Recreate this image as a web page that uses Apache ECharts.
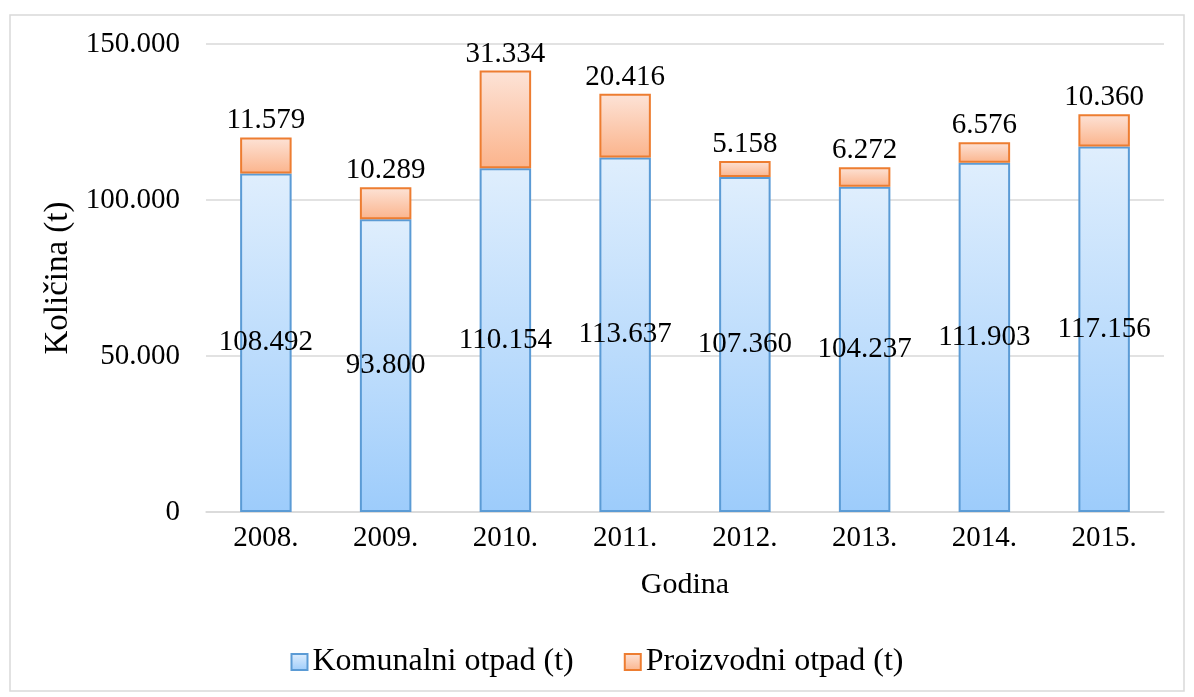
<!DOCTYPE html>
<html>
<head>
<meta charset="utf-8">
<script src="https://cdn.jsdelivr.net/npm/echarts@6/dist/echarts.min.js"></script>
<style>
  html, body { margin: 0; padding: 0; background: #fff; }
  #chart { width: 1194px; height: 697px; }
</style>
</head>
<body>
<div id="chart"></div>
<script>
// data
const years = ['2008.', '2009.', '2010.', '2011.', '2012.', '2013.', '2014.', '2015.'];
const komunalni = [108492, 93800, 110154, 113637, 107360, 104237, 111903, 117156];
const proizvodni = [11579, 10289, 31334, 20416, 5158, 6272, 6576, 10360];
const yTicks = [0, 50000, 100000, 150000];

const fontFamily = '"Liberation Serif", "DejaVu Serif", serif';

// 108492 -> "108.492"
function fmt(v) {
  return String(v).replace(/\B(?=(\d{3})+(?!\d))/g, '.');
}

const chart = echarts.init(document.getElementById('chart'));

const option = {
  backgroundColor: '#fff',
  textStyle: { fontFamily: fontFamily, color: '#000' },
  graphic: [{
    type: 'rect',
    shape: { x: 10, y: 15, width: 1174, height: 676 },
    style: { fill: 'none', stroke: '#d9d9d9', lineWidth: 1.5 },
    silent: true
  }],
  grid: { left: 206, right: 30, top: 44, bottom: 185 },
  legend: {
    bottom: 14,
    left: 'center',
    icon: 'rect',
    itemWidth: 16,
    itemHeight: 16,
    itemGap: 50,
    textStyle: { fontFamily: fontFamily, fontSize: 32, color: '#000' },
    data: ['Komunalni otpad (t)', 'Proizvodni otpad (t)']
  },
  xAxis: {
    type: 'category',
    data: years,
    name: 'Godina',
    nameLocation: 'middle',
    nameGap: 58,
    nameTextStyle: { fontFamily: fontFamily, fontSize: 30, color: '#000' },
    axisLine: { show: true, lineStyle: { color: '#d9d9d9', width: 1.5 } },
    axisTick: { show: false },
    axisLabel: { fontFamily: fontFamily, fontSize: 29, color: '#000', margin: 12 }
  },
  yAxis: {
    type: 'value',
    min: yTicks[0],
    max: yTicks[yTicks.length - 1],
    interval: yTicks[1] - yTicks[0],
    name: 'Količina (t)',
    nameLocation: 'middle',
    nameGap: 129,
    nameTextStyle: { fontFamily: fontFamily, fontSize: 33, color: '#000' },
    axisLine: { show: false },
    axisTick: { show: false },
    axisLabel: {
      fontFamily: fontFamily, fontSize: 29, color: '#000', margin: 26,
      formatter: function (v) { return fmt(v); }
    },
    splitLine: { lineStyle: { color: '#d9d9d9', width: 1.5 } }
  },
  series: [
    {
      name: 'Komunalni otpad (t)',
      type: 'bar',
      stack: 'otpad',
      barWidth: '43%',
      data: komunalni,
      itemStyle: {
        color: new echarts.graphic.LinearGradient(0, 0, 0, 1, [
          { offset: 0, color: '#dfeefd' },
          { offset: 1, color: '#9dccfb' }
        ]),
        borderColor: '#5b9bd5',
        borderWidth: 2
      },
      label: {
        show: true,
        position: 'inside',
        fontFamily: fontFamily,
        fontSize: 29,
        color: '#000',
        formatter: function (p) { return fmt(p.value); }
      }
    },
    {
      name: 'Proizvodni otpad (t)',
      type: 'bar',
      stack: 'otpad',
      data: proizvodni,
      itemStyle: {
        color: new echarts.graphic.LinearGradient(0, 0, 0, 1, [
          { offset: 0, color: '#fde3d7' },
          { offset: 1, color: '#fbb48c' }
        ]),
        borderColor: '#ed7d31',
        borderWidth: 2
      },
      label: {
        show: true,
        position: 'top',
        distance: 2,
        fontFamily: fontFamily,
        fontSize: 29,
        color: '#000',
        formatter: function (p) { return fmt(p.value); }
      }
    }
  ]
};

chart.setOption(option);
</script>
</body>
</html>
